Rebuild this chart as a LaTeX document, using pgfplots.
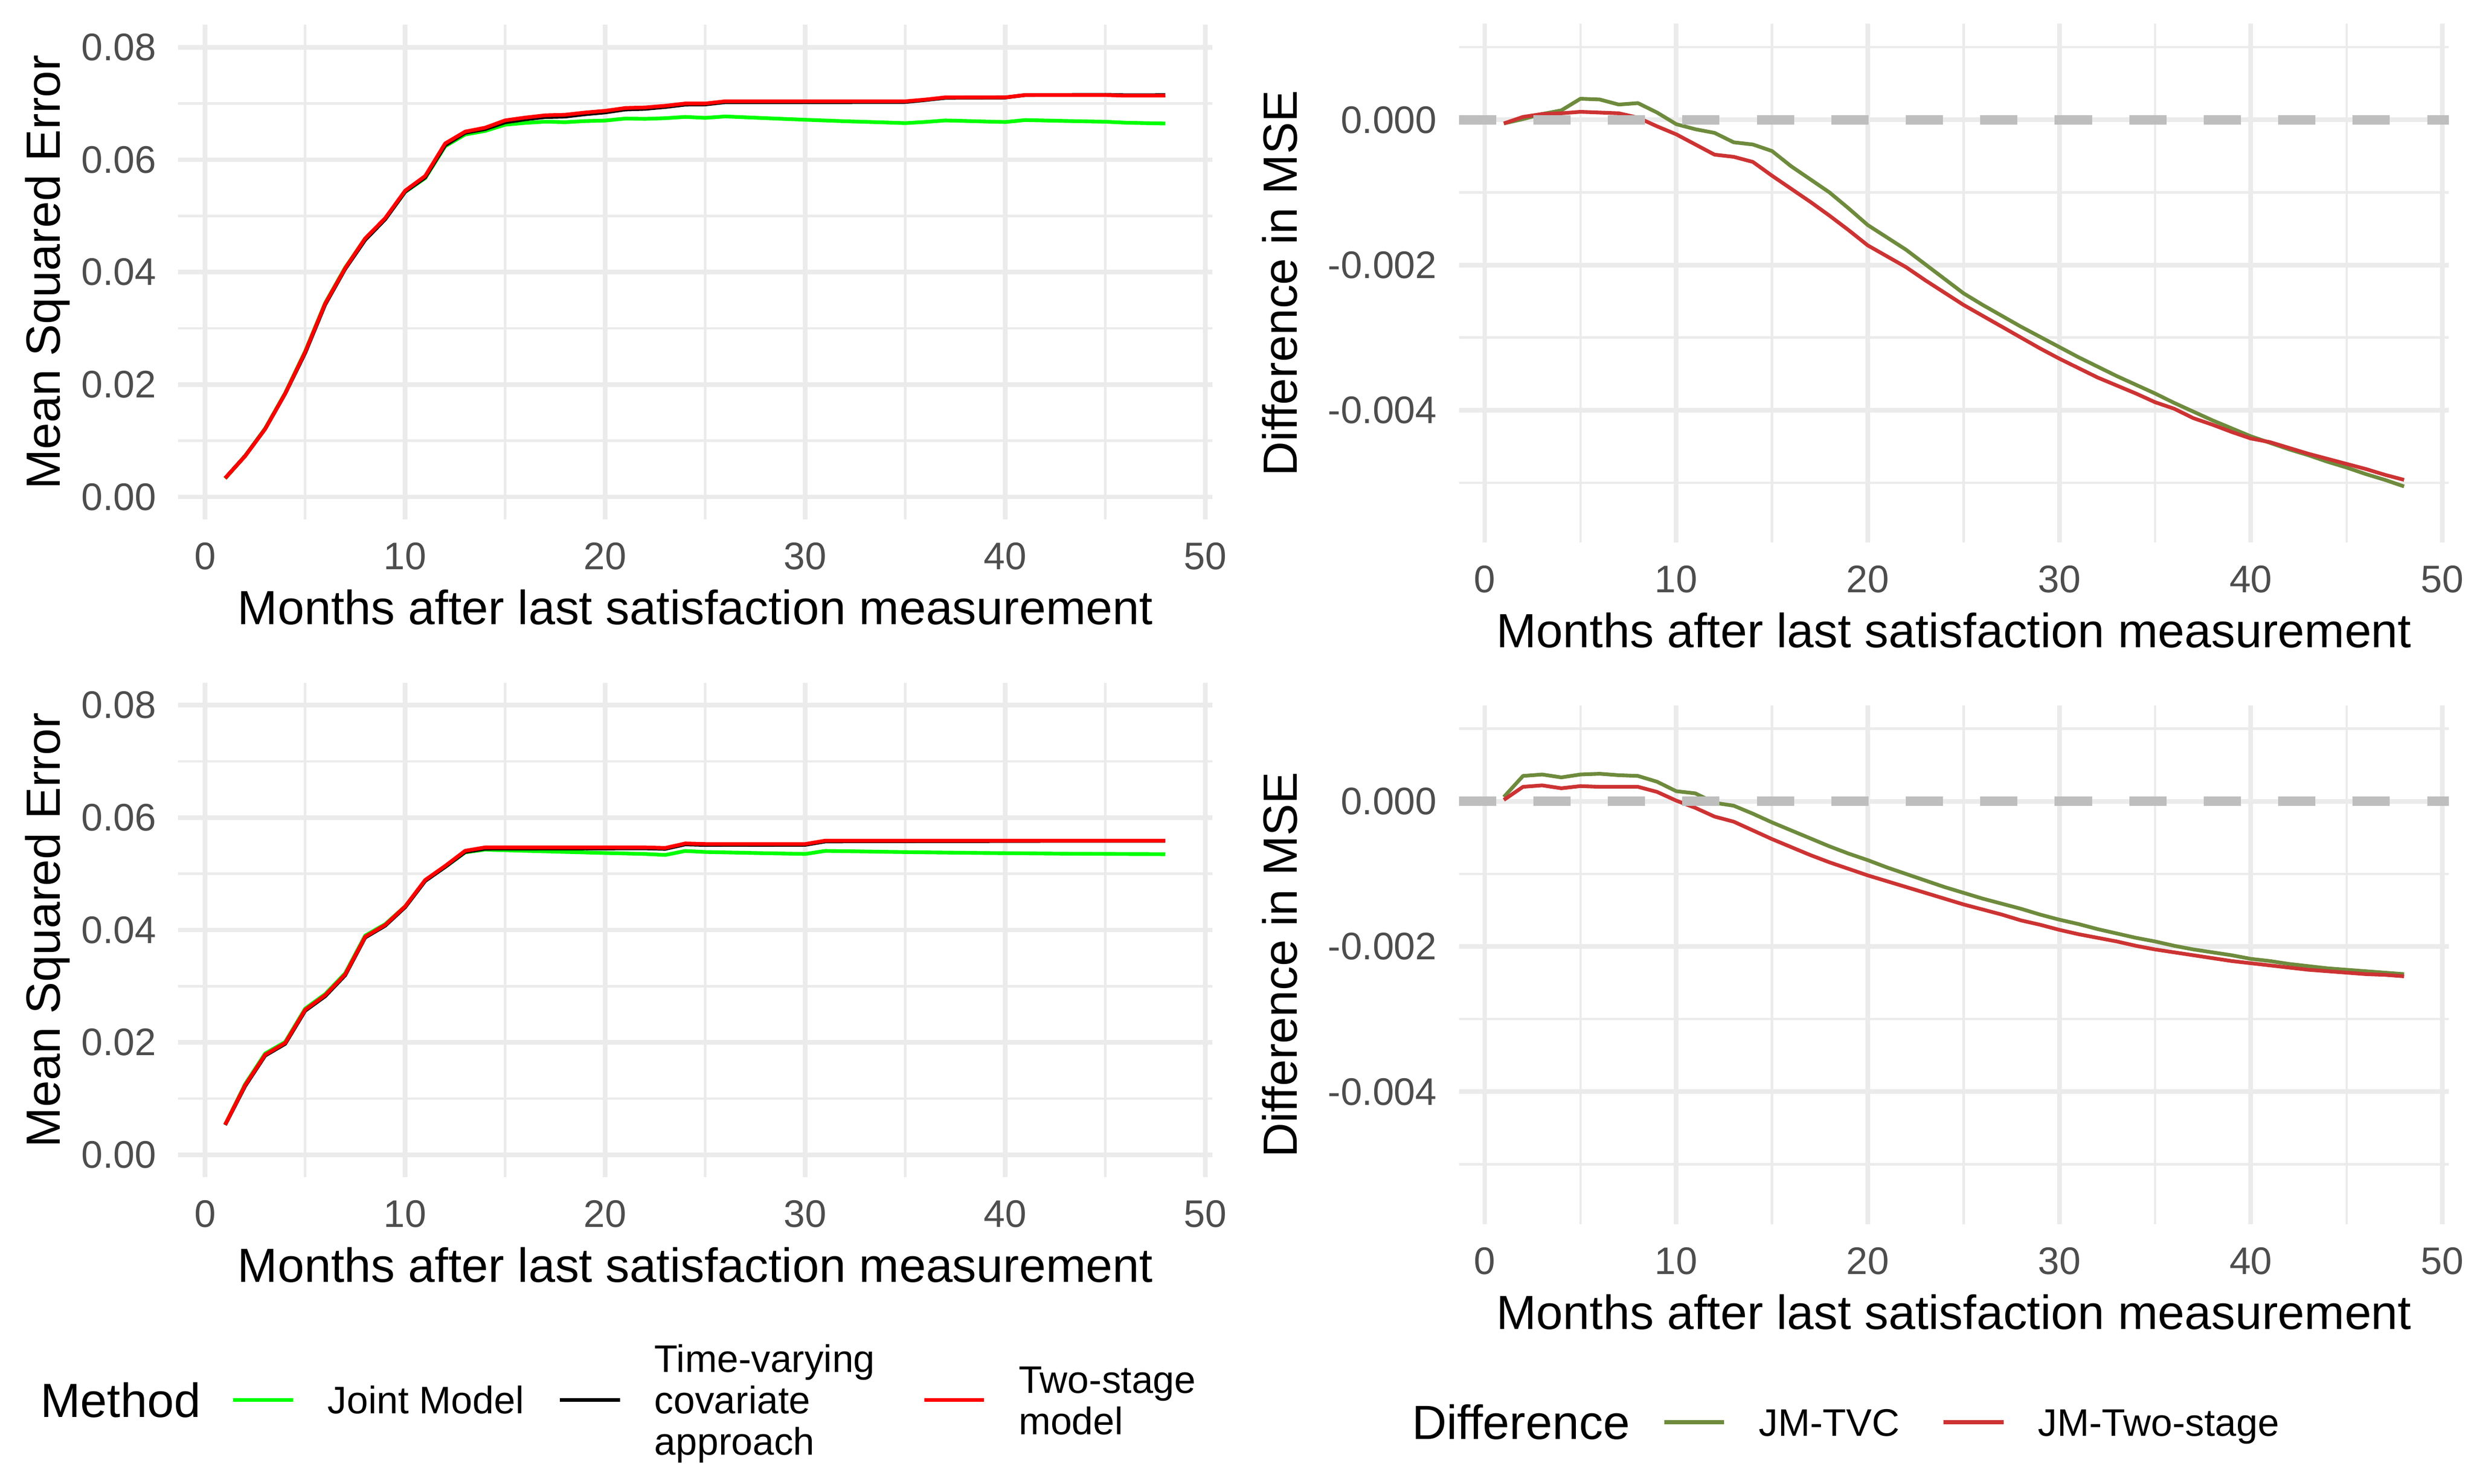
\documentclass[border=0pt]{standalone}
\usepackage{fontspec}
\setmainfont{Liberation Sans}
\usepackage{pgfplots}
\usepackage{pgfplotstable}
\pgfplotsset{compat=1.18}
\definecolor{gridc}{HTML}{EBEBEB}
\definecolor{tickc}{HTML}{4D4D4D}
\definecolor{jmgreen}{HTML}{00FF00}
\definecolor{tsred}{HTML}{FF0000}
\definecolor{dgreen}{HTML}{6E8B3D}
\definecolor{dred}{HTML}{CD3333}
\definecolor{hlinec}{HTML}{BEBEBE}
\newcommand\tickfont{\fontsize{17.6}{19}\selectfont}
\newcommand\titlefont{\fontsize{22}{26.4}\selectfont}
\newcommand\lentL[2]{\raisebox{-28.5pt}{\parbox[b][57pt][c]{#1}{\raggedright#2}}}
\newcommand\lentR[2]{\raisebox{-9.5pt}{\parbox[b][19pt][c]{#1}{\raggedright#2}}}

\pgfplotstableread{
x jm tvc ts
1 0.00329 0.00334 0.00334
2 0.00731 0.00730 0.00727
3 0.01219 0.01210 0.01210
4 0.01849 0.01836 0.01840
5 0.02592 0.02562 0.02580
6 0.03451 0.03423 0.03440
7 0.04080 0.04057 0.04070
8 0.04599 0.04574 0.04600
9 0.04950 0.04940 0.04960
10 0.05427 0.05433 0.05450
11 0.05674 0.05686 0.05710
12 0.06241 0.06259 0.06290
13 0.06449 0.06480 0.06500
14 0.06512 0.06546 0.06570
15 0.06623 0.06666 0.06700
16 0.06655 0.06719 0.06750
17 0.06677 0.06759 0.06790
18 0.06668 0.06768 0.06800
19 0.06688 0.06810 0.06840
20 0.06697 0.06842 0.06870
21 0.06732 0.06894 0.06920
22 0.06727 0.06906 0.06930
23 0.06739 0.06938 0.06960
24 0.06762 0.06981 0.07000
25 0.06745 0.06984 0.07000
26 0.06770 0.07025 0.07040
27 0.06755 0.07025 0.07040
28 0.06740 0.07025 0.07040
29 0.06725 0.07024 0.07040
30 0.06711 0.07024 0.07040
31 0.06698 0.07025 0.07040
32 0.06685 0.07025 0.07040
33 0.06674 0.07027 0.07040
34 0.06663 0.07028 0.07040
35 0.06651 0.07028 0.07040
36 0.06672 0.07062 0.07070
37 0.06699 0.07101 0.07110
38 0.06690 0.07104 0.07110
39 0.06680 0.07105 0.07110
40 0.06671 0.07107 0.07110
41 0.06706 0.07151 0.07150
42 0.06698 0.07152 0.07150
43 0.06690 0.07152 0.07150
44 0.06683 0.07154 0.07150
45 0.06676 0.07155 0.07150
46 0.06659 0.07147 0.07140
47 0.06651 0.07147 0.07140
48 0.06644 0.07149 0.07140
}\msetop

\pgfplotstableread{
x dtvc dts
1 -0.00005 -0.00005
2 0.00001 0.00004
3 0.00008 0.00008
4 0.00013 0.00009
5 0.00029 0.00011
6 0.00028 0.00010
7 0.00021 0.00009
8 0.00023 0.00003
9 0.00010 -0.00009
10 -0.00006 -0.00020
11 -0.00013 -0.00034
12 -0.00018 -0.00048
13 -0.00031 -0.00051
14 -0.00034 -0.00058
15 -0.00043 -0.00077
16 -0.00064 -0.00095
17 -0.00082 -0.00113
18 -0.00100 -0.00132
19 -0.00122 -0.00152
20 -0.00145 -0.00173
21 -0.00162 -0.00188
22 -0.00179 -0.00203
23 -0.00199 -0.00221
24 -0.00219 -0.00238
25 -0.00239 -0.00255
26 -0.00255 -0.00270
27 -0.00270 -0.00285
28 -0.00285 -0.00300
29 -0.00299 -0.00315
30 -0.00313 -0.00329
31 -0.00327 -0.00342
32 -0.00340 -0.00355
33 -0.00353 -0.00366
34 -0.00365 -0.00377
35 -0.00377 -0.00389
36 -0.00390 -0.00398
37 -0.00402 -0.00411
38 -0.00414 -0.00420
39 -0.00425 -0.00430
40 -0.00436 -0.00439
41 -0.00445 -0.00444
42 -0.00454 -0.00452
43 -0.00462 -0.00460
44 -0.00471 -0.00467
45 -0.00479 -0.00474
46 -0.00488 -0.00481
47 -0.00496 -0.00489
48 -0.00505 -0.00496
}\diftop

\pgfplotstableread{
x jm tvc ts
1 0.00538 0.00532 0.00537
2 0.01257 0.01224 0.01240
3 0.01802 0.01766 0.01780
4 0.02007 0.01975 0.01990
5 0.02600 0.02564 0.02580
6 0.02859 0.02822 0.02840
7 0.03230 0.03195 0.03210
8 0.03900 0.03867 0.03880
9 0.04103 0.04077 0.04090
10 0.04422 0.04407 0.04420
11 0.04882 0.04873 0.04890
12 0.05122 0.05123 0.05140
13 0.05382 0.05389 0.05410
14 0.05430 0.05447 0.05470
15 0.05419 0.05448 0.05470
16 0.05409 0.05449 0.05470
17 0.05399 0.05450 0.05470
18 0.05389 0.05451 0.05470
19 0.05380 0.05452 0.05470
20 0.05370 0.05451 0.05470
21 0.05362 0.05453 0.05470
22 0.05353 0.05453 0.05470
23 0.05335 0.05444 0.05460
24 0.05406 0.05524 0.05540
25 0.05388 0.05514 0.05530
26 0.05381 0.05515 0.05530
27 0.05374 0.05515 0.05530
28 0.05366 0.05514 0.05530
29 0.05360 0.05516 0.05530
30 0.05353 0.05516 0.05530
31 0.05407 0.05576 0.05590
32 0.05402 0.05578 0.05590
33 0.05397 0.05579 0.05590
34 0.05391 0.05579 0.05590
35 0.05386 0.05579 0.05590
36 0.05382 0.05581 0.05590
37 0.05378 0.05582 0.05590
38 0.05374 0.05582 0.05590
39 0.05370 0.05582 0.05590
40 0.05367 0.05584 0.05590
41 0.05364 0.05584 0.05590
42 0.05361 0.05585 0.05590
43 0.05358 0.05585 0.05590
44 0.05356 0.05586 0.05590
45 0.05354 0.05586 0.05590
46 0.05352 0.05586 0.05590
47 0.05351 0.05587 0.05590
48 0.05349 0.05587 0.05590
}\msebot

\pgfplotstableread{
x dtvc dts
1 0.00006 0.00002
2 0.00035 0.00020
3 0.00037 0.00022
4 0.00033 0.00018
5 0.00037 0.00021
6 0.00038 0.00020
7 0.00036 0.00020
8 0.00035 0.00020
9 0.00027 0.00013
10 0.00014 0.00001
11 0.00011 -0.00009
12 -0.00002 -0.00021
13 -0.00006 -0.00028
14 -0.00017 -0.00040
15 -0.00029 -0.00052
16 -0.00040 -0.00063
17 -0.00051 -0.00074
18 -0.00062 -0.00084
19 -0.00072 -0.00093
20 -0.00081 -0.00102
21 -0.00091 -0.00110
22 -0.00100 -0.00118
23 -0.00109 -0.00126
24 -0.00118 -0.00134
25 -0.00126 -0.00142
26 -0.00134 -0.00149
27 -0.00141 -0.00156
28 -0.00148 -0.00164
29 -0.00156 -0.00170
30 -0.00163 -0.00177
31 -0.00169 -0.00183
32 -0.00176 -0.00188
33 -0.00182 -0.00193
34 -0.00188 -0.00199
35 -0.00193 -0.00204
36 -0.00199 -0.00208
37 -0.00204 -0.00212
38 -0.00208 -0.00216
39 -0.00212 -0.00220
40 -0.00217 -0.00223
41 -0.00220 -0.00226
42 -0.00224 -0.00229
43 -0.00227 -0.00232
44 -0.00230 -0.00234
45 -0.00232 -0.00236
46 -0.00234 -0.00238
47 -0.00236 -0.00239
48 -0.00238 -0.00241
}\difbot

\pgfplotsset{
 gg/.style={
  scale only axis,
  anchor=south west,
  xmin=-1.35, xmax=50.35,
  axis line style={draw=none},
  major tick length=0pt, minor tick length=0pt,
  grid=both,
  major grid style={gridc, line width=2.13pt},
  minor grid style={gridc, line width=1.07pt},
  xtick={0,10,20,30,40,50},
  xticklabels={0,10,20,30,40,50},
  minor xtick={5,15,25,35,45},
  scaled ticks=false,
  tick label style={font=\tickfont, text=tickc, inner sep=0pt},
  xticklabel style={anchor=north, yshift=-10.4pt},
  yticklabel style={anchor=east, xshift=-9.9pt},
  every axis x label/.style={at={(axis description cs:0.5,0)}, anchor=base, yshift=-48.1pt, font=\titlefont, text=black, inner sep=0pt},
  xlabel={Months after last satisfaction measurement},
  line join=round,
 },
 mse/.style={gg, width=474.06pt, height=226.73pt,
  ymin=-0.004, ymax=0.084,
  ytick={0,0.02,0.04,0.06,0.08},
  yticklabels={0.00,0.02,0.04,0.06,0.08},
  minor ytick={0.01,0.03,0.05,0.07},
  every axis y label/.style={at={(axis description cs:-0.11444,0.5)}, rotate=90, anchor=base, font=\titlefont, text=black, inner sep=0pt},
  ylabel={Mean Squared Error}},
 dif/.style={gg, width=453.89pt, height=237.95pt,
  ymin=-0.005825, ymax=0.001325,
  ytick={-0.004,-0.002,0},
  yticklabels={-0.004,-0.002,0.000},
  minor ytick={-0.005,-0.003,-0.001,0.001},
  every axis y label/.style={at={(axis description cs:-0.1637,0.5)}, rotate=90, anchor=base, font=\titlefont, text=black, inner sep=0pt},
  ylabel={Difference in MSE}},
 dataline/.style={line width=1.71pt},
 keyimg/.style={legend image code/.code={\draw[##1] (0pt,2.5pt) -- (27.5pt,2.5pt);}},
}

\begin{document}
\begin{tikzpicture}
\useasboundingbox (0,0) rectangle (1134pt,680.3pt);

% top left
\begin{axis}[mse, at={(81.65pt,442.18pt)}]
\addplot[dataline, jmgreen] table[x=x,y=jm] {\msetop};
\addplot[dataline, black] table[x=x,y=tvc] {\msetop};
\addplot[dataline, tsred] table[x=x,y=ts] {\msetop};
\end{axis}

% top right
\begin{axis}[dif, at={(668.68pt,431.52pt)}]
\addplot[dataline, dgreen] table[x=x,y=dtvc] {\diftop};
\addplot[dataline, dred] table[x=x,y=dts] {\diftop};
\addplot[hlinec, line width=4.27pt, dash pattern=on 17.07pt off 17.07pt] coordinates {(-1.35,0) (50.35,0)};
\end{axis}

% bottom left
\begin{axis}[mse, at={(81.65pt,140.60pt)}, keyimg,
  legend columns=3,
  legend cell align=left,
  legend style={at={(axis description cs:0.05136,-0.4613)}, anchor=west,
    draw=none, fill=none, inner sep=0pt, outer sep=0pt,
    font=\tickfont, text=black,
    nodes={inner sep=0pt, outer sep=0pt, text depth={}, text height={}},
    /tikz/every odd column/.append style={column sep=15pt},
    /tikz/every even column/.append style={column sep=0pt}}]
\addplot[dataline, jmgreen] table[x=x,y=jm] {\msebot};
\addlegendentry{\lentL{105.6pt}{\strut Joint Model}}
\addplot[dataline, black] table[x=x,y=tvc] {\msebot};
\addlegendentry{\lentL{122.7pt}{\strut Time-varying\\\strut covariate\\\strut approach}}
\addplot[dataline, tsred] table[x=x,y=ts] {\msebot};
\addlegendentry{\lentL{95pt}{\strut Two-stage\\\strut model}}
\end{axis}

% bottom right
\begin{axis}[dif, at={(668.68pt,119.09pt)}, keyimg,
  legend columns=2,
  legend cell align=left,
  legend style={at={(axis description cs:0.2056,-0.3919)}, anchor=west,
    draw=none, fill=none, inner sep=0pt, outer sep=0pt,
    font=\tickfont, text=black,
    nodes={inner sep=0pt, outer sep=0pt, text depth={}, text height={}},
    /tikz/every odd column/.append style={column sep=15pt},
    /tikz/every even column/.append style={column sep=0pt}}]
\addplot[dataline, dgreen] table[x=x,y=dtvc] {\difbot};
\addlegendentry{\lentR{83.8pt}{\strut JM-TVC}}
\addplot[dataline, dred] table[x=x,y=dts] {\difbot};
\addlegendentry{\lentR{118pt}{\strut JM-Two-stage}}
\addplot[hlinec, line width=4.27pt, dash pattern=on 17.07pt off 17.07pt, forget plot] coordinates {(-1.35,0) (50.35,0)};
\end{axis}

\node[anchor=west, inner sep=0pt, font=\titlefont] at (18.4pt,38.52pt) {Method};
\node[anchor=west, inner sep=0pt, font=\titlefont] at (647.0pt,28.33pt) {Difference};
\end{tikzpicture}
\end{document}
